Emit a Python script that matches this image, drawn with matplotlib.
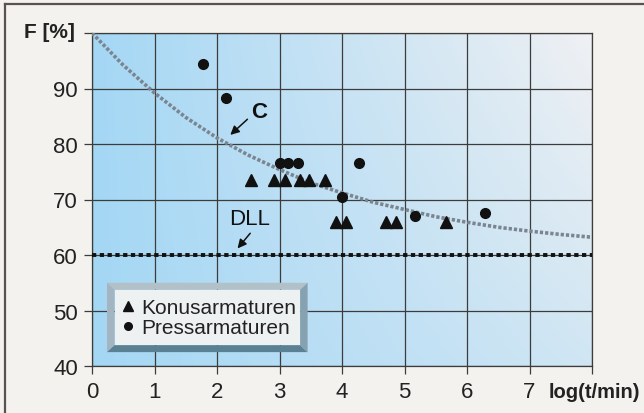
import numpy as np
import matplotlib
matplotlib.use("Agg")
import matplotlib.pyplot as plt
from matplotlib.lines import Line2D
from matplotlib.patches import Polygon

plt.rcParams['font.family'] = ['Liberation Sans', 'DejaVu Sans']

# Measured creep factor F [%] over log(t/min)
konus_x = [2.55, 2.91, 3.08, 3.33, 3.47, 3.72, 3.91, 4.07, 4.70, 4.87, 5.67]
konus_y = [73.5, 73.5, 73.5, 73.5, 73.5, 73.5, 66.0, 66.0, 66.0, 66.0, 66.0]
press_x = [1.77, 2.14, 3.00, 3.14, 3.29, 4.27, 4.00, 5.16, 6.29]
press_y = [94.5, 88.2, 76.5, 76.5, 76.5, 76.5, 70.5, 67.1, 67.5]

# Trend curve C
curve_x = [0, 0.5, 1, 1.5, 2, 2.5, 3, 3.5, 4, 4.5, 5, 5.5, 6, 6.5, 7, 7.5, 8]
curve_y = [100, 94.2, 89.2, 84.8, 81.1, 78.0, 75.4, 73.0, 71.2, 69.5, 68.2, 66.9, 65.9, 65.0, 64.3, 63.7, 63.2]

# Limit line DLL
dll_level = 60

x_ticks = [0, 1, 2, 3, 4, 5, 6, 7]
y_ticks = [40, 50, 60, 70, 80, 90]

fig = plt.figure(figsize=(6.44, 4.14), dpi=100, facecolor='#f3f2ee')
ax = fig.add_axes([92/644, 1 - 367/414, 500/644, 333/414])
ax.set_xlim(0, 8)
ax.set_ylim(40, 100)

# blue background fading towards the upper right
gx, gy = np.meshgrid(np.linspace(0, 8, 300), np.linspace(40, 100, 200))
t = np.clip((gx / 8) * (0.6 + 0.42 * (gy - 40) / 60), 0, 1)[..., None]
c0 = np.array([164, 215, 245]) / 255
c1 = np.array([238, 240, 243]) / 255
img = c0 * (1 - t) + c1 * t
ax.imshow(img, extent=[0, 8, 40, 100], origin='lower', aspect='auto', zorder=0)

# grid
for xv in range(0, 9):
    ax.axvline(xv, color='#3c3c3c', lw=0.9, zorder=1)
for yv in range(40, 101, 10):
    ax.axhline(yv, color='#3c3c3c', lw=0.9, zorder=1)
for s in ax.spines.values():
    s.set_color('#3c3c3c')
    s.set_linewidth(0.9)

ax.set_xticks(list(range(0, 9)))
ax.set_xticklabels([str(v) for v in x_ticks] + [''])
ax.set_yticks(y_ticks + [100])
ax.set_yticklabels([str(v) for v in y_ticks] + [''])
ax.tick_params(axis='both', length=6, width=0.9, color='#3c3c3c',
               labelsize=16, labelcolor='#222222')
ax.tick_params(axis='x', pad=5)
ax.tick_params(axis='y', pad=4)

fig.text(75/644, 1 - 33/414, 'F [%]', ha='right', va='center',
         fontsize=15, fontweight='bold', color='#222222')
fig.text(549/644, 1 - 393/414, 'log(t/min)', ha='left', va='center',
         fontsize=14.5, fontweight='bold', color='#222222')

# curves
ax.plot(curve_x, curve_y, color='#7a8590', lw=2.6,
        linestyle=(0, (0.9, 0.55)), dash_capstyle='butt', zorder=3)
ax.plot([0, 8], [dll_level, dll_level], color='#111111', lw=2.8,
        linestyle=(0, (1.1, 0.9)), dash_capstyle='butt', zorder=3)

# data points
ax.plot(konus_x, konus_y, '^', color='#111111', ms=8, zorder=4, clip_on=False)
ax.plot(press_x, press_y, 'o', color='#111111', ms=7, zorder=4, clip_on=False)

# annotations
ax.text(2.68, 85.8, 'C', fontsize=16, fontweight='bold', ha='center',
        va='center', color='#111111', zorder=5)
ax.annotate('', xy=(2.18, 81.3), xytext=(2.52, 84.8),
            arrowprops=dict(arrowstyle='-|>', color='#111111', lw=1.1,
                            mutation_scale=13), zorder=5)
ax.text(2.52, 66.6, 'DLL', fontsize=16, ha='center', va='center',
        color='#111111', zorder=5)
ax.annotate('', xy=(2.30, 60.8), xytext=(2.56, 64.3),
            arrowprops=dict(arrowstyle='-|>', color='#111111', lw=1.1,
                            mutation_scale=13), zorder=5)

# bevelled legend frame
x0, x1, y0, y1 = 0.24, 3.45, 42.5, 55.0
bx, by = 0.12, 1.25
inner = [(x0 + bx, y0 + by), (x1 - bx, y0 + by), (x1 - bx, y1 - by), (x0 + bx, y1 - by)]
faces = [
    ([(x0, y1), (x1, y1), (x1 - bx, y1 - by), (x0 + bx, y1 - by)], '#b2c1c8'),
    ([(x0, y0), (x0, y1), (x0 + bx, y1 - by), (x0 + bx, y0 + by)], '#a2b5c0'),
    ([(x0, y0), (x1, y0), (x1 - bx, y0 + by), (x0 + bx, y0 + by)], '#5a8094'),
    ([(x1, y0), (x1, y1), (x1 - bx, y1 - by), (x1 - bx, y0 + by)], '#86a2b1'),
]
for pts, col in faces:
    ax.add_patch(Polygon(pts, closed=True, facecolor=col, edgecolor='none', zorder=6))
ax.add_patch(Polygon(inner, closed=True, facecolor='#eef1f2', edgecolor='none', zorder=6))

handles = [
    Line2D([], [], marker='^', color='#111111', ls='none', ms=6.5),
    Line2D([], [], marker='o', color='#111111', ls='none', ms=5.5),
]
leg = ax.legend(handles, ['Konusarmaturen', 'Pressarmaturen'],
                loc='center', bbox_to_anchor=((x0 + x1) / 2 + 0.02, (y0 + y1) / 2),
                bbox_transform=ax.transData, frameon=False, fontsize=15,
                handlelength=0.7, handletextpad=0.3, labelspacing=0.05,
                borderpad=0.1)
leg.set_zorder(7)
for txt in leg.get_texts():
    txt.set_color('#222222')

# scan border
fig.add_artist(Line2D([5/644, 1], [1 - 5/414, 1 - 5/414], color='#5a5252', lw=1.6))
fig.add_artist(Line2D([5/644, 5/644], [0, 1 - 5/414], color='#5a5252', lw=1.6))

fig.savefig('out.png', dpi=100, facecolor=fig.get_facecolor())
